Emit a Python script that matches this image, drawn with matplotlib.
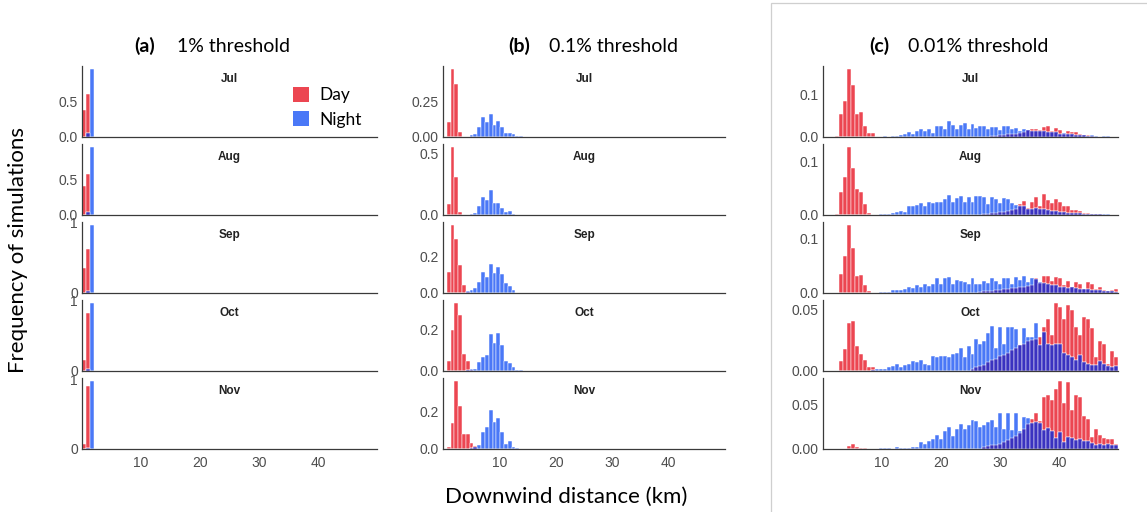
import matplotlib.pyplot as plt
import numpy as np
from matplotlib.patches import Patch, Rectangle

W, H = 1147, 512

months = ["Jul", "Aug", "Sep", "Oct", "Nov"]
n_bins = 74
bin_width = 50 / n_bins  # km per bin, x axis 0-50 km

# (a) 1% threshold: frequency per bin, first bins only
a_day = [[0.39, 0.61, 0.0], [0.41, 0.57, 0.0], [0.35, 0.63, 0.0],
         [0.155, 0.83, 0.0], [0.07, 0.91, 0.0]]
a_night = [[0.0, 0.05, 0.96], [0.0, 0.04, 0.94], [0.0, 0.03, 0.96],
           [0.0, 0.03, 0.96], [0.0, 0.02, 0.97]]

# (b) 0.1% threshold, values x 1000, first bins only
b_day = [
    [0, 102, 471, 369, 36],
    [0, 91, 550, 310, 27],
    [0, 115, 370, 293, 154, 43, 5],
    [0, 47, 194, 323, 269, 79, 48, 6],
    [0, 13, 141, 361, 230, 80, 80, 30, 16],
]
b_night = [
    [0, 0, 0, 0, 0, 0, 2, 12, 19, 67, 138, 102, 162, 81, 114, 71, 31, 31, 19, 7, 5, 2],
    [0, 0, 0, 0, 0, 0, 0, 8, 14, 77, 146, 124, 206, 96, 100, 60, 27, 33, 8],
    [0, 0, 0, 0, 0, 0, 11, 15, 28, 61, 117, 89, 159, 111, 144, 102, 56, 37, 15],
    [0, 0, 0, 0, 0, 0, 6, 11, 11, 44, 65, 76, 176, 132, 181, 124, 48, 39, 19, 6, 3],
    [0, 0, 0, 0, 0, 0, 0, 4, 12, 21, 93, 116, 209, 146, 168, 93, 27, 45, 9, 3],
]

# (c) 0.01% threshold, values x 1000, all 74 bins
c_day = [
    [0, 0, 0, 2, 54, 86, 160, 123, 55, 58,
     27, 9, 9, 0, 0, 0, 0, 0, 0, 0,
     0, 0, 0, 0, 0, 0, 0, 0, 0, 0,
     0, 0, 0, 0, 0, 0, 0, 0, 0, 0,
     0, 1, 2, 3, 4, 5, 6, 6, 8, 10,
     12, 16, 18, 20, 16, 23, 26, 15, 22, 17,
     6, 14, 12, 11, 8, 5, 4, 2, 1, 1,
     1, 0, 0, 0],
    [0, 0, 0, 2, 44, 71, 127, 89, 48, 43,
     21, 3, 0, 0, 0, 0, 0, 0, 0, 0,
     0, 0, 0, 0, 0, 0, 0, 0, 0, 0,
     0, 0, 0, 0, 0, 0, 0, 0, 0, 0,
     1, 2, 3, 4, 5, 6, 8, 10, 12, 20,
     27, 13, 25, 33, 16, 40, 29, 22, 30, 24,
     16, 16, 10, 10, 8, 3, 3, 2, 1, 1,
     0, 0, 0, 0],
    [0, 0, 0, 0, 35, 69, 125, 83, 31, 33,
     14, 4, 0, 0, 0, 0, 0, 0, 0, 0,
     0, 0, 0, 0, 0, 0, 0, 0, 0, 0,
     0, 0, 0, 0, 0, 0, 0, 0, 0, 2,
     3, 3, 4, 5, 6, 7, 8, 9, 10, 11,
     12, 13, 14, 28, 18, 32, 32, 22, 30, 27,
     14, 22, 12, 20, 16, 8, 20, 16, 8, 12,
     5, 4, 5, 7],
    [0, 0, 0, 0, 8, 18, 39, 41, 20, 14,
     9, 3, 3, 0, 0, 0, 0, 0, 0, 0,
     0, 0, 0, 0, 0, 0, 0, 0, 0, 0,
     0, 0, 0, 0, 0, 0, 0, 2, 3, 4,
     5, 7, 9, 10, 12, 13, 15, 17, 19, 21,
     22, 24, 25, 26, 28, 36, 42, 29, 55, 52,
     42, 54, 50, 36, 29, 44, 42, 35, 11, 24,
     22, 6, 16, 11],
    [0, 0, 0, 0, 0, 0, 3, 6, 2, 1,
     1, 0, 0, 0, 0, 0, 0, 0, 0, 0,
     0, 0, 0, 0, 0, 0, 0, 0, 0, 0,
     0, 0, 0, 0, 0, 0, 0, 0, 0, 0,
     2, 3, 4, 5, 6, 8, 10, 12, 15, 18,
     22, 28, 34, 41, 32, 59, 61, 55, 67, 76,
     52, 75, 44, 61, 59, 37, 34, 13, 22, 16,
     12, 11, 11, 6],
]
c_night = [
    [0, 0, 0, 0, 0, 0, 0, 0, 0, 0,
     0, 0, 0, 0, 0, 3, 0, 2, 3, 5,
     8, 12, 7, 15, 18, 15, 20, 10, 26, 26,
     18, 38, 28, 20, 28, 32, 20, 30, 22, 26,
     26, 20, 24, 24, 16, 25, 25, 18, 22, 15,
     20, 16, 15, 14, 14, 14, 12, 13, 12, 8,
     10, 8, 7, 5, 5, 4, 3, 4, 3, 1,
     2, 2, 1, 0],
    [0, 0, 0, 0, 0, 0, 0, 0, 0, 0,
     0, 0, 0, 0, 2, 2, 2, 3, 5, 8,
     6, 16, 16, 18, 22, 17, 24, 22, 25, 25,
     30, 38, 24, 32, 35, 25, 34, 25, 35, 36,
     33, 20, 33, 30, 22, 32, 30, 22, 19, 17,
     16, 11, 12, 14, 11, 12, 10, 8, 8, 6,
     6, 4, 4, 3, 3, 2, 2, 1, 2, 1,
     1, 1, 0, 0],
    [0, 0, 0, 0, 0, 0, 0, 0, 0, 0,
     0, 0, 0, 0, 1, 1, 2, 5, 6, 5,
     8, 11, 10, 14, 11, 16, 13, 16, 27, 16,
     27, 29, 16, 24, 22, 21, 16, 27, 16, 17,
     22, 19, 27, 22, 16, 27, 27, 16, 30, 24,
     31, 21, 27, 26, 20, 19, 17, 15, 14, 11,
     12, 10, 11, 9, 8, 7, 8, 6, 5, 6,
     4, 3, 3, 2],
    [0, 0, 0, 0, 0, 0, 0, 0, 0, 0,
     0, 0, 1, 2, 2, 2, 3, 4, 6, 3,
     5, 6, 8, 7, 9, 6, 5, 12, 11, 12,
     12, 11, 14, 15, 19, 11, 20, 14, 26, 22,
     24, 31, 37, 19, 36, 22, 36, 36, 34, 21,
     35, 28, 28, 39, 21, 32, 22, 21, 22, 22,
     15, 13, 11, 9, 13, 7, 6, 5, 5, 8,
     6, 4, 3, 4],
    [0, 0, 0, 0, 0, 0, 0, 0, 0, 0,
     0, 0, 0, 0, 1, 1, 1, 0, 2, 1,
     1, 1, 2, 2, 8, 6, 9, 11, 16, 11,
     20, 25, 15, 22, 28, 22, 27, 33, 32, 25,
     27, 30, 33, 25, 41, 22, 40, 21, 41, 20,
     36, 35, 29, 30, 29, 21, 24, 20, 12, 19,
     8, 14, 12, 10, 11, 9, 9, 7, 5, 6,
     5, 6, 5, 4],
]

# y tick positions / labels per panel and month
a_yticks = [([0, 0.5], ["0.0", "0.5"])] * 2 + [([0, 1], ["0", "1"])] * 3
b_yticks = [([0, 0.25], ["0.00", "0.25"]), ([0, 0.5], ["0.0", "0.5"])] + \
    [([0, 0.2], ["0.0", "0.2"])] * 3
c_yticks = [([0, 0.1], ["0.0", "0.1"])] * 3 + [([0, 0.05], ["0.00", "0.05"])] * 2
x_ticks = [10, 20, 30, 40]

RED = "#EC4651"
BLUE = "#4A78F7"
NAVY = "#3A32C0"
TICK_FONT = "Liberation Sans"
LABEL_FONT = "Lato"


def pad(values, scale=1.0):
    v = np.asarray(values, dtype=float) * scale
    return np.pad(v, (0, n_bins - len(v)))


def draw_hist(ax, day, night):
    x = np.arange(n_bins) * bin_width
    kw = dict(width=bin_width, align="edge", edgecolor="white", linewidth=0.35)
    ax.bar(x, day, color=RED, **kw)
    ax.bar(x, night, color=BLUE, **kw)
    ax.bar(x, np.minimum(day, night), color=NAVY, **kw)


fig = plt.figure(figsize=(W / 100, H / 100), dpi=100)

panel_x = [(82, 377), (443, 725), (823, 1118)]
row_top = [66, 144, 222, 300, 378]
row_h = 71

panels = [
    ([pad(v) for v in a_day], [pad(v) for v in a_night], a_yticks),
    ([pad(v, 1e-3) for v in b_day], [pad(v, 1e-3) for v in b_night], b_yticks),
    ([pad(v, 1e-3) for v in c_day], [pad(v, 1e-3) for v in c_night], c_yticks),
]

for (x0, x1), (days, nights, yticks) in zip(panel_x, panels):
    for r, month in enumerate(months):
        top = row_top[r]
        ax = fig.add_axes([x0 / W, 1 - (top + row_h) / H, (x1 - x0) / W, row_h / H])
        draw_hist(ax, days[r], nights[r])
        ymax = max(days[r].max(), nights[r].max()) * 1.05
        ax.set_xlim(0, 50)
        ax.set_ylim(0, ymax)
        for s in ["top", "right"]:
            ax.spines[s].set_visible(False)
        for s in ["left", "bottom"]:
            ax.spines[s].set_color("#3a3a3a")
            ax.spines[s].set_linewidth(0.9)
        ax.set_yticks(yticks[r][0])
        ax.set_yticklabels(yticks[r][1])
        ax.tick_params(length=0, labelsize=10, labelcolor="#4d4d4d", pad=3)
        for lab in ax.get_yticklabels():
            lab.set_fontfamily(TICK_FONT)
        if r == len(months) - 1:
            ax.set_xticks(x_ticks)
            ax.tick_params(axis="x", pad=5)
            for lab in ax.get_xticklabels():
                lab.set_fontfamily(TICK_FONT)
        else:
            ax.set_xticks([])
        ax.text(0.5, 0.82, month, transform=ax.transAxes, ha="center", va="center",
                fontsize=8.5, fontweight="bold", family=TICK_FONT, color="#222222")

# panel titles
titles = [("(a)", "1% threshold", 145, 177), ("(b)", "0.1% threshold", 519, 549),
          ("(c)", "0.01% threshold", 879, 908)]
for tag, name, xt, xn in titles:
    fig.text(xt / W, 1 - 46 / H, tag, ha="center", va="center", fontsize=14,
             fontweight="bold", family=LABEL_FONT)
    fig.text(xn / W, 1 - 46 / H, name, ha="left", va="center", fontsize=14,
             family=LABEL_FONT)

fig.text(18 / W, 1 - 250 / H, "Frequency of simulations", rotation=90,
         ha="center", va="center", fontsize=16, family=LABEL_FONT)
fig.text(566 / W, 1 - 497 / H, "Downwind distance (km)", ha="center", va="center",
         fontsize=16, family=LABEL_FONT)

handles = [Patch(facecolor=RED, label="Day"), Patch(facecolor=BLUE, label="Night")]
fig.legend(handles=handles, loc="upper left", bbox_to_anchor=(293 / W, 1 - 87 / H),
           frameon=False, handlelength=0.95, handleheight=0.95,
           handletextpad=0.55, labelspacing=0.45, borderpad=0, borderaxespad=0,
           prop={"family": LABEL_FONT, "size": 12.5})

# light frame around panel (c)
fig.add_artist(Rectangle((771 / W, -0.01), 1.0, 1 - 3 / H + 0.01,
                         transform=fig.transFigure, fill=False,
                         edgecolor="#cfcfcf", linewidth=0.9))

fig.savefig("out.png", dpi=100)
